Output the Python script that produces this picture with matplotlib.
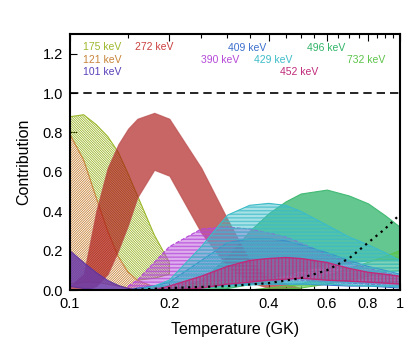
import numpy as np
import matplotlib
matplotlib.use("Agg")
import matplotlib.pyplot as plt
from matplotlib.ticker import FixedLocator, NullFormatter

plt.rcParams['font.family'] = ['Liberation Sans', 'DejaVu Sans']
plt.rcParams['hatch.linewidth'] = 0.6

### ---- data (T in GK, contribution fractions)
T_lo = [0.10, 0.11, 0.12, 0.13, 0.14, 0.15, 0.16, 0.18, 0.20]
T_mid = [0.10, 0.11, 0.12, 0.13, 0.14, 0.15, 0.16, 0.18, 0.20, 0.25, 0.30, 0.35, 0.40, 0.50]
T_hi = [0.15, 0.16, 0.18, 0.20, 0.25, 0.30, 0.35, 0.40, 0.45, 0.50, 0.60, 0.70, 0.80, 0.90, 1.00]

# 101 keV
low_101 = [0.02, 0.01, 0.005, 0.0, 0.0, 0.0, 0.0, 0.0, 0.0]
up_101 = [0.20, 0.14, 0.09, 0.05, 0.025, 0.01, 0.0, 0.0, 0.0]
# 121 keV
low_121 = [0.03, 0.04, 0.04, 0.03, 0.02, 0.01, 0.005, 0.0, 0.0]
up_121 = [0.79, 0.66, 0.47, 0.30, 0.17, 0.09, 0.05, 0.015, 0.005]
# 175 keV
low_175 = [0.12, 0.14, 0.15, 0.13, 0.10, 0.07, 0.05, 0.06, 0.08]
up_175 = [0.88, 0.89, 0.84, 0.78, 0.70, 0.59, 0.48, 0.28, 0.14]
# 272 keV
low_272 = [0.0, 0.0, 0.02, 0.08, 0.20, 0.33, 0.47, 0.61, 0.58, 0.29, 0.12, 0.04, 0.01, 0.0]
up_272 = [0.02, 0.08, 0.40, 0.62, 0.74, 0.82, 0.87, 0.90, 0.87, 0.62, 0.36, 0.15, 0.06, 0.01]
# 390 keV
low_390 = [0.0, 0.0, 0.01, 0.02, 0.04, 0.05, 0.05, 0.05, 0.05, 0.05, 0.04, 0.035, 0.03, 0.025, 0.02]
up_390 = [0.02, 0.05, 0.14, 0.22, 0.31, 0.32, 0.31, 0.29, 0.27, 0.24, 0.18, 0.14, 0.11, 0.09, 0.07]
# 409 keV
low_409 = [0.0, 0.0, 0.0, 0.01, 0.02, 0.03, 0.03, 0.03, 0.03, 0.03, 0.025, 0.02, 0.02, 0.015, 0.01]
up_409 = [0.0, 0.01, 0.02, 0.04, 0.15, 0.24, 0.26, 0.26, 0.25, 0.23, 0.19, 0.15, 0.12, 0.10, 0.08]
# 429 keV
low_429 = [0.0, 0.0, 0.0, 0.005, 0.01, 0.02, 0.025, 0.03, 0.03, 0.03, 0.03, 0.025, 0.02, 0.02, 0.015]
up_429 = [0.0, 0.0, 0.02, 0.05, 0.22, 0.38, 0.43, 0.44, 0.43, 0.40, 0.33, 0.27, 0.23, 0.19, 0.15]
# 452 keV
low_452 = [0.0, 0.0, 0.0, 0.0, 0.01, 0.03, 0.04, 0.05, 0.055, 0.06, 0.05, 0.045, 0.04, 0.035, 0.03]
up_452 = [0.0, 0.0, 0.0, 0.02, 0.07, 0.12, 0.15, 0.16, 0.165, 0.16, 0.14, 0.11, 0.09, 0.08, 0.07]
# 496 keV
low_496 = [0.0, 0.0, 0.0, 0.0, 0.0, 0.01, 0.03, 0.06, 0.08, 0.10, 0.13, 0.14, 0.15, 0.155, 0.16]
up_496 = [0.0, 0.0, 0.0, 0.0, 0.05, 0.17, 0.30, 0.39, 0.45, 0.49, 0.51, 0.48, 0.44, 0.38, 0.32]
# 732 keV
low_732 = [0.0, 0.0, 0.0, 0.0, 0.0, 0.0, 0.0, 0.0, 0.005, 0.01, 0.03, 0.05, 0.07, 0.09, 0.10]
up_732 = [0.0, 0.0, 0.0, 0.0, 0.0, 0.0, 0.0, 0.01, 0.02, 0.03, 0.07, 0.11, 0.14, 0.17, 0.20]

# dotted black curve
T_dot = [0.15, 0.20, 0.30, 0.40, 0.50, 0.60, 0.70, 0.80, 0.90, 0.98]
y_dot = [0.0, 0.01, 0.02, 0.035, 0.06, 0.10, 0.16, 0.24, 0.31, 0.37]

labels = ['175 keV', '121 keV', '101 keV', '272 keV', '409 keV',
          '390 keV', '429 keV', '496 keV', '452 keV', '732 keV']
label_x = [0.1095, 0.1095, 0.1095, 0.1574, 0.301, 0.249, 0.361, 0.522, 0.4325, 0.692]
label_y = [1.234, 1.168, 1.107, 1.234, 1.228, 1.168, 1.168, 1.228, 1.107, 1.168]
colors = ['#9cb82c', '#c8843a', '#5a40b8', '#cc4040', '#3a6ecc',
          '#b548d8', '#3cbcc8', '#2fb466', '#c02a7a', '#5cc44a']

### ---- plot
fig = plt.figure(figsize=(4.15, 3.46), dpi=100)
ax = fig.add_axes([0.1687, 0.1618, 0.7952, 0.7399])

# low-T group: green hatch, orange hatch on white, red on top (translucent)
ax.fill_between(T_lo, low_175, up_175, facecolor='none', edgecolor='#9cb82c',
                hatch='\\' * 14, linewidth=0.8, zorder=2)
ax.fill_between(T_lo, low_121, up_121, facecolor='white', edgecolor='#c8843a',
                hatch='/' * 14, linewidth=0.8, zorder=3)
ax.fill_between(T_mid, low_272, up_272, facecolor='#ab1212', edgecolor='#b84848',
                linewidth=0.8, alpha=0.65, zorder=4)
ax.fill_between(T_lo, low_101, up_101, facecolor='#6a3aa8', edgecolor='#5a30a0',
                linewidth=0.8, alpha=0.85, zorder=5)

# high-T group, hatches drawn over the red tail
ax.fill_between(T_hi, low_496, up_496, facecolor='#5cc48a', edgecolor='#3cb870',
                linewidth=0.8, alpha=0.95, zorder=2)
ax.fill_between(T_hi, low_732, up_732, facecolor='none', edgecolor='#5cc44a',
                hatch='-' * 12, linewidth=0.8, zorder=4.5)
ax.fill_between(T_hi, low_390, up_390, facecolor='none', edgecolor='#b548d8',
                hatch='-' * 12, linewidth=0.8, linestyle='--', zorder=4.5)
ax.fill_between(T_hi, low_409, up_409, facecolor='none', edgecolor='#3a6ecc',
                hatch='.' * 10, linewidth=0.8, zorder=4.5)
ax.fill_between(T_hi, low_429, up_429, facecolor='none', edgecolor='#3cbcc8',
                hatch='-' * 12, linewidth=0.8, zorder=4.5)
ax.fill_between(T_hi, low_452, up_452, facecolor='none', edgecolor='#c02a7a',
                hatch='|' * 12, linewidth=1.0, zorder=5)

ax.plot(T_dot, y_dot, color='black', linestyle=(0, (1, 2)), linewidth=1.6, zorder=6)
ax.axhline(1.0, color='black', linestyle=(0, (5, 3)), linewidth=1.2, zorder=6)

for lab, x, y, c in zip(labels, label_x, label_y, colors):
    ax.text(x, y, lab, color=c, fontsize=7.5, ha='left', va='center')

ax.set_xscale('log')
ax.set_xlim(0.1, 1.0)
ax.set_ylim(0, 1.3)
ax.xaxis.set_major_locator(FixedLocator([0.1, 0.2, 0.4, 0.6, 0.8, 1.0]))
ax.xaxis.set_minor_locator(FixedLocator([0.15, 0.25, 0.3, 0.35, 0.45, 0.5, 0.55,
                                         0.65, 0.7, 0.75, 0.85, 0.9, 0.95]))
ax.xaxis.set_minor_formatter(NullFormatter())
ax.set_xticklabels(['0.1', '0.2', '0.4', '0.6', '0.8', '1'])
ax.set_yticks([0, 0.2, 0.4, 0.6, 0.8, 1.0, 1.2])
ax.set_yticklabels(['0.0', '0.2', '0.4', '0.6', '0.8', '1.0', '1.2'])
ax.tick_params(which='both', direction='in', top=True, labelsize=10.5, pad=5)
ax.tick_params(which='major', length=5, width=0.8)
ax.tick_params(which='minor', length=3, width=0.8)
for s in ax.spines.values():
    s.set_linewidth(1.5)
    s.set_zorder(10)

ax.set_xlabel('Temperature (GK)', fontsize=11.5, labelpad=8)
ax.set_ylabel('Contribution', fontsize=11.5, labelpad=8)

fig.savefig('out.png', dpi=100)
